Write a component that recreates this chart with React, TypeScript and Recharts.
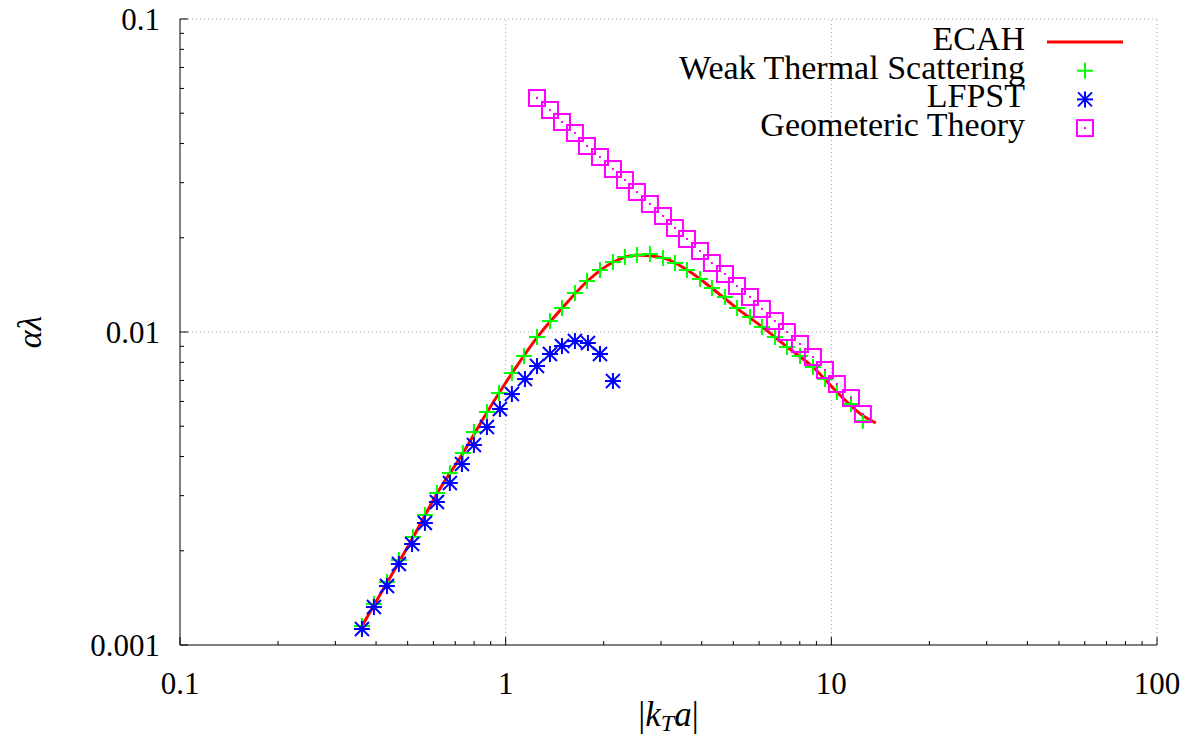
import {
  ScatterChart,
  Scatter,
  XAxis,
  YAxis,
  ReferenceLine,
  Legend,
} from "recharts";

// tick values (log axes, minor ticks at 2..9 of each decade)
const xTicks = [
  0.1, 0.2, 0.3, 0.4, 0.5, 0.6, 0.7, 0.8, 0.9,
  1, 2, 3, 4, 5, 6, 7, 8, 9,
  10, 20, 30, 40, 50, 60, 70, 80, 90, 100,
];
const xMajor = [0.1, 1, 10, 100];
const xTickLabels = ["0.1", "1", "10", "100"];

const yTicks = [
  0.001, 0.002, 0.003, 0.004, 0.005, 0.006, 0.007, 0.008, 0.009,
  0.01, 0.02, 0.03, 0.04, 0.05, 0.06, 0.07, 0.08, 0.09, 0.1,
];
const yMajor = [0.001, 0.01, 0.1];
const yTickLabels = ["0.001", "0.01", "0.1"];

const seriesNames = ["ECAH", "Weak Thermal Scattering", "LFPST", "Geometeric Theory"];

// ECAH curve
const ecahX = [0.357, 0.432, 0.519, 0.615, 0.739, 0.876, 1.045, 1.248, 1.489, 1.777, 2.135, 2.53, 3.041, 3.603, 4.299, 5.131, 6.122, 7.306, 8.781, 10.4, 12.5, 13.7];
const ecahY = [0.00112, 0.00158, 0.0022, 0.00304, 0.0041, 0.00553, 0.00738, 0.0096, 0.0119, 0.0145, 0.0167, 0.01762, 0.01725, 0.0158, 0.0138, 0.0119, 0.0104, 0.00896, 0.00773, 0.00643, 0.0054, 0.00512];

// Weak Thermal Scattering
const wtsX = [0.362, 0.394, 0.432, 0.47, 0.519, 0.565, 0.615, 0.674, 0.739, 0.799, 0.876, 0.954, 1.045, 1.138, 1.248, 1.368, 1.489, 1.632, 1.777, 1.948, 2.135, 2.324, 2.53, 2.773, 3.041, 3.31, 3.603, 3.951, 4.299, 4.714, 5.131, 5.626, 6.122, 6.712, 7.306, 8.011, 8.781, 9.559, 10.4, 11.49, 12.5];
const wtsY = [0.00115, 0.001352, 0.00159, 0.001869, 0.002213, 0.002602, 0.003059, 0.003543, 0.004105, 0.004791, 0.005551, 0.006383, 0.007396, 0.008382, 0.009638, 0.01084, 0.01193, 0.01332, 0.01455, 0.01578, 0.01673, 0.01736, 0.01762, 0.01775, 0.01723, 0.01661, 0.01578, 0.01477, 0.01382, 0.01294, 0.01193, 0.01117, 0.01038, 0.009638, 0.008956, 0.008382, 0.007728, 0.007074, 0.00643, 0.005888, 0.0052];

// LFPST
const lfpstX = [0.362, 0.394, 0.432, 0.47, 0.516, 0.565, 0.615, 0.674, 0.734, 0.799, 0.876, 0.96, 1.045, 1.146, 1.248, 1.368, 1.489, 1.632, 1.789, 1.948, 2.135];
const lfpstY = [0.001125, 0.001322, 0.001543, 0.001815, 0.002102, 0.002454, 0.002863, 0.003293, 0.003787, 0.004356, 0.004971, 0.005675, 0.006335, 0.007074, 0.007785, 0.008506, 0.009022, 0.009358, 0.009223, 0.008506, 0.006972];

// Geometeric Theory
const geoX = [1.248, 1.368, 1.489, 1.632, 1.777, 1.948, 2.135, 2.324, 2.53, 2.773, 3.041, 3.31, 3.603, 3.951, 4.299, 4.714, 5.131, 5.626, 6.122, 6.712, 7.306, 8.011, 8.781, 9.559, 10.4, 11.49, 12.5];
const geoY = [0.05591, 0.05121, 0.04688, 0.04323, 0.03928, 0.03623, 0.03318, 0.03059, 0.02801, 0.02564, 0.02348, 0.02149, 0.01982, 0.01815, 0.01661, 0.01532, 0.01403, 0.01294, 0.01185, 0.01084, 0.01, 0.009155, 0.008319, 0.007562, 0.006822, 0.006152, 0.00547];

const toPoints = (xs: number[], ys: number[]) => xs.map((x, i) => ({ x, y: ys[i] }));

const SERIF = { fontFamily: "'Liberation Serif', 'DejaVu Serif', serif" };
const GRID = "#a0a0a0";

function PlusShape({ cx, cy }: any) {
  return (
    <g stroke="#00ff00" strokeWidth={2}>
      <line x1={cx - 8} y1={cy} x2={cx + 8} y2={cy} />
      <line x1={cx} y1={cy - 8} x2={cx} y2={cy + 8} />
    </g>
  );
}

function StarShape({ cx, cy }: any) {
  return (
    <g stroke="#0000ff" strokeWidth={2}>
      <line x1={cx - 8} y1={cy} x2={cx + 8} y2={cy} />
      <line x1={cx} y1={cy - 8} x2={cx} y2={cy + 8} />
      <line x1={cx - 7} y1={cy - 7} x2={cx + 7} y2={cy + 7} />
      <line x1={cx - 7} y1={cy + 7} x2={cx + 7} y2={cy - 7} />
    </g>
  );
}

function SquareShape({ cx, cy }: any) {
  return (
    <g>
      <rect x={cx - 8} y={cy - 8} width={16} height={16} fill="none" stroke="#ff00ff" strokeWidth={2} />
      <rect x={cx - 1} y={cy - 1} width={2} height={2} fill="#ff00ff" />
    </g>
  );
}

function NoShape() {
  return <g />;
}

function XTick({ x, y, payload }: any) {
  const i = xMajor.indexOf(payload.value);
  if (i < 0) return <line x1={x} y1={y} x2={x} y2={y - 4} stroke="#000" />;
  return (
    <g>
      <line x1={x} y1={y} x2={x} y2={y - 8} stroke="#000" />
      <text x={x} y={y + 49} textAnchor="middle" fontSize={31} style={SERIF} fill="#000">
        {xTickLabels[i]}
      </text>
    </g>
  );
}

function YTick({ x, y, payload }: any) {
  const i = yMajor.indexOf(payload.value);
  if (i < 0) return <line x1={x} y1={y} x2={x + 4} y2={y} stroke="#000" />;
  return (
    <g>
      <line x1={x} y1={y} x2={x + 8} y2={y} stroke="#000" />
      <text x={x - 20} y={y + 11} textAnchor="end" fontSize={31} style={SERIF} fill="#000">
        {yTickLabels[i]}
      </text>
    </g>
  );
}

function XLabel({ viewBox }: any) {
  const cx = viewBox.x + viewBox.width / 2;
  const by = viewBox.y + 81;
  return (
    <text x={cx} y={by} textAnchor="middle" fontSize={35} style={SERIF} fill="#000">
      <tspan>|</tspan>
      <tspan fontStyle="italic">k</tspan>
      <tspan fontStyle="italic" fontSize={24} dy={5}>T</tspan>
      <tspan fontStyle="italic" dy={-5}>a</tspan>
      <tspan>|</tspan>
    </text>
  );
}

function YLabel({ viewBox }: any) {
  const cx = viewBox.x + 29;
  const cy = viewBox.y + viewBox.height / 2;
  return (
    <text
      x={cx}
      y={cy}
      textAnchor="middle"
      dominantBaseline="central"
      fontSize={34}
      fontStyle="italic"
      style={SERIF}
      fill="#000"
      transform={`rotate(-90 ${cx} ${cy})`}
    >
      αλ
    </text>
  );
}

function legendIcon(name: string, cx: number, cy: number) {
  if (name === "ECAH")
    return <line x1={cx - 38} y1={cy} x2={cx + 38} y2={cy} stroke="#ff0000" strokeWidth={3} />;
  if (name === "Weak Thermal Scattering") return <PlusShape cx={cx} cy={cy} />;
  if (name === "LFPST") return <StarShape cx={cx} cy={cy} />;
  return <SquareShape cx={cx} cy={cy} />;
}

function LegendBox({ payload }: any) {
  const items = [...(payload || [])].sort(
    (a: any, b: any) => seriesNames.indexOf(a.value) - seriesNames.indexOf(b.value)
  );
  return (
    <svg width={1197} height={150} style={{ display: "block" }}>
      {items.map((e: any, i: number) => {
        const cy = 42 + i * 28.7;
        return (
          <g key={e.value}>
            <text x={1025} y={cy + 8} textAnchor="end" fontSize={34} style={SERIF} fill="#000">
              {e.value}
            </text>
            {legendIcon(e.value, 1085, cy)}
          </g>
        );
      })}
    </svg>
  );
}

export default function App() {
  return (
    <div style={{ position: "absolute", left: 0, top: 0, width: 1197, height: 740, background: "#fff" }}>
      <ScatterChart width={1197} height={740} margin={{ top: 19, right: 40, bottom: 0, left: 0 }}>
        <XAxis
          type="number"
          dataKey="x"
          scale="log"
          domain={[0.1, 100]}
          allowDataOverflow
          ticks={xTicks}
          interval={0}
          tickSize={0}
          tickMargin={0}
          tick={(p: any) => <XTick {...p} />}
          axisLine={{ stroke: "#000" }}
          height={95}
          label={(p: any) => <XLabel {...p} />}
        />
        <YAxis
          type="number"
          dataKey="y"
          scale="log"
          domain={[0.001, 0.1]}
          allowDataOverflow
          ticks={yTicks}
          interval={0}
          tickSize={0}
          tickMargin={0}
          tick={(p: any) => <YTick {...p} />}
          axisLine={{ stroke: "#000" }}
          width={180}
          label={(p: any) => <YLabel {...p} />}
        />
        <ReferenceLine x={1} stroke={GRID} strokeDasharray="1 3" />
        <ReferenceLine x={10} stroke={GRID} strokeDasharray="1 3" />
        <ReferenceLine x={100} stroke={GRID} strokeDasharray="1 3" />
        <ReferenceLine y={0.01} stroke={GRID} strokeDasharray="1 3" />
        <ReferenceLine y={0.1} stroke={GRID} strokeDasharray="1 3" />
        <Legend
          layout="vertical"
          align="center"
          verticalAlign="middle"
          content={(p: any) => <LegendBox {...p} />}
          wrapperStyle={{ left: 0, top: 0, width: 1197, height: 150, pointerEvents: "none" }}
        />
        <Scatter
          name="ECAH"
          data={toPoints(ecahX, ecahY)}
          fill="#ff0000"
          line={{ stroke: "#ff0000", strokeWidth: 3 }}
          lineJointType="monotoneX"
          shape={NoShape}
          isAnimationActive={false}
        />
        <Scatter
          name="Weak Thermal Scattering"
          data={toPoints(wtsX, wtsY)}
          fill="#00ff00"
          shape={PlusShape}
          isAnimationActive={false}
        />
        <Scatter
          name="LFPST"
          data={toPoints(lfpstX, lfpstY)}
          fill="#0000ff"
          shape={StarShape}
          isAnimationActive={false}
        />
        <Scatter
          name="Geometeric Theory"
          data={toPoints(geoX, geoY)}
          fill="#ff00ff"
          shape={SquareShape}
          isAnimationActive={false}
        />
      </ScatterChart>
    </div>
  );
}
